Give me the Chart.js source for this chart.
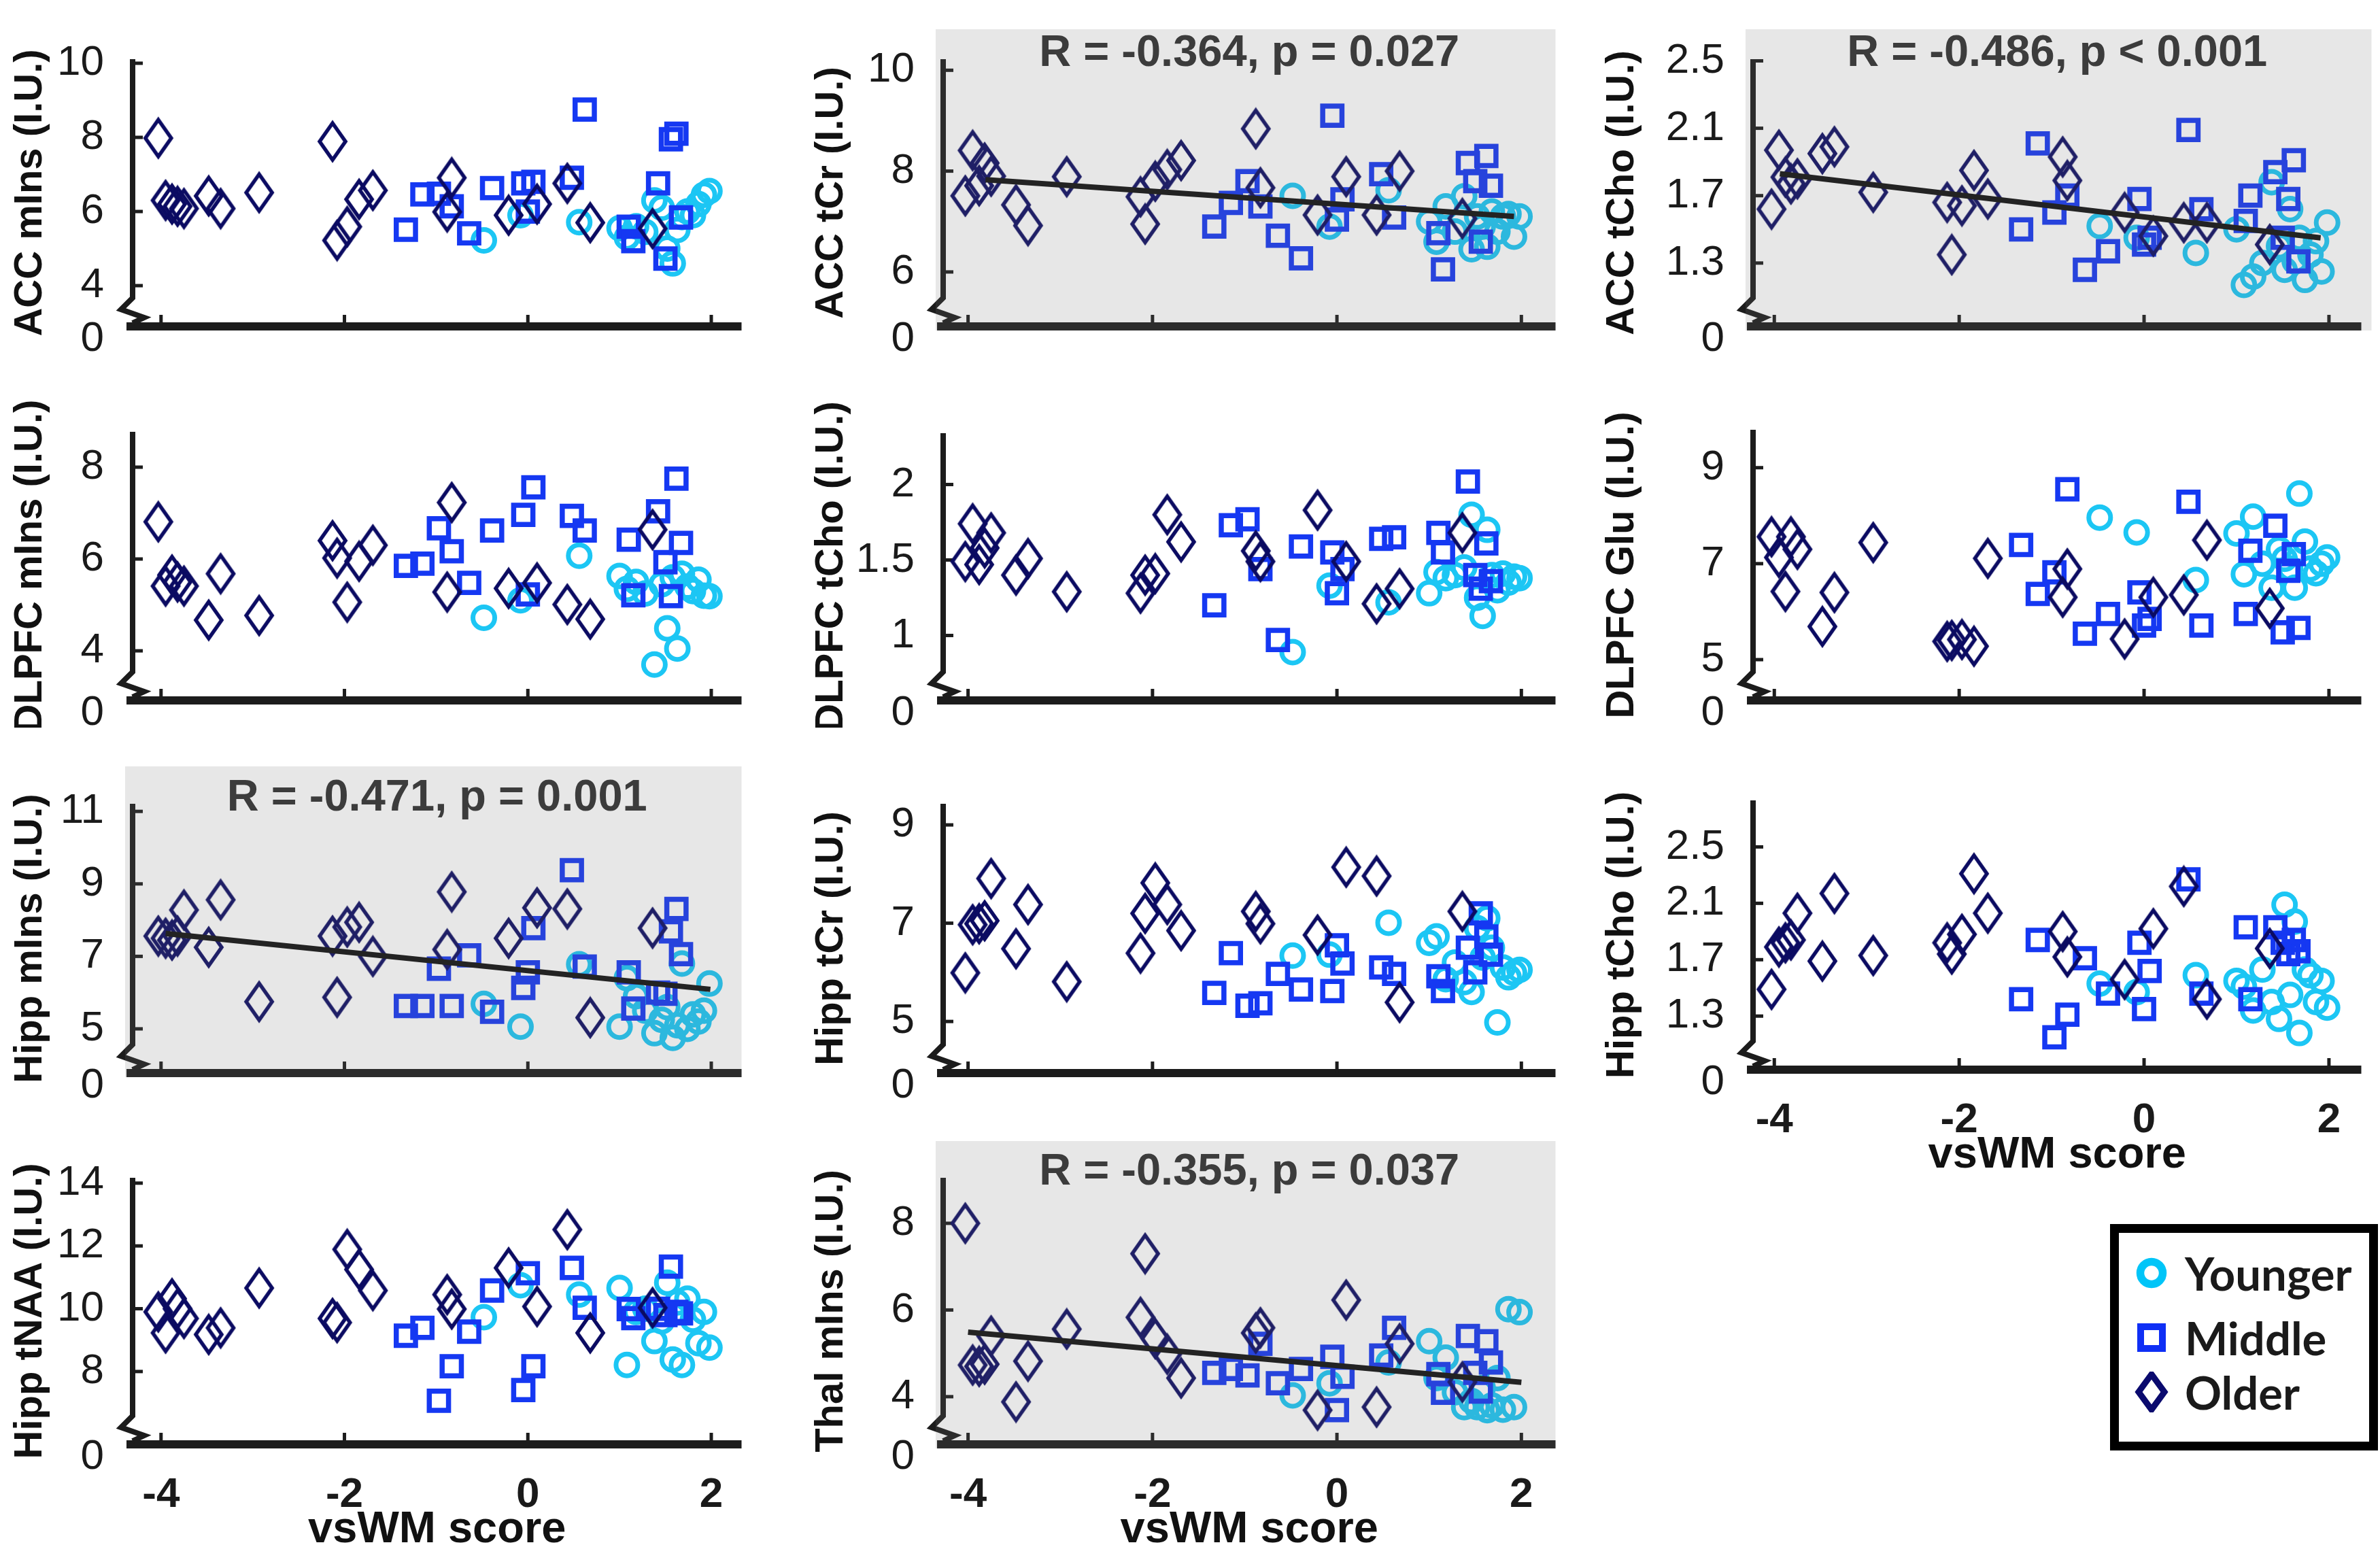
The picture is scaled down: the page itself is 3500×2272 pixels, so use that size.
<!DOCTYPE html>
<html>
<head>
<meta charset="utf-8">
<script src="https://cdn.jsdelivr.net/npm/chart.js@4.4.1/dist/chart.umd.min.js"></script>
<style>
html, body { margin: 0; padding: 0; background: #fff; overflow: hidden; width: 3500px; height: 2272px; }
canvas { position: absolute; }
#legend { position: absolute; left: 3103px; top: 1800px; width: 394px; height: 333px; box-sizing: border-box;
  border: 13px solid #000; background: #fff; font-family: Lato, "Open Sans", sans-serif; font-weight: bold;
  font-size: 67px; color: #1a1a1a; }
#legend .item { position: absolute; left: 0; height: 80px; width: 360px; }
#legend svg { position: absolute; left: 18px; top: 10px; }
#legend span { position: absolute; left: 97px; top: 0; line-height: 80px; white-space: nowrap; }
</style>
</head>
<body>
<div id="legend">
  <div class="item" style="top:19px"><svg width="60" height="60"><circle cx="30" cy="30" r="16.5" fill="none" stroke="#00c5f8" stroke-width="11.5"/></svg><span>Younger</span></div>
  <div class="item" style="top:114px"><svg width="60" height="60"><rect x="14" y="14" width="32" height="32" fill="none" stroke="#0f2ff5" stroke-width="10"/></svg><span>Middle</span></div>
  <div class="item" style="top:194px"><svg width="60" height="60" style="top:10px"><polygon points="30,4 49,30 30,56 11,30" fill="none" stroke="#0a0a6e" stroke-width="9"/></svg><span>Older</span></div>
</div>
<script>
// vsWM score of each subject, by age group
var xOlder = [-4.03, -3.95, -3.88, -3.82, -3.75, -3.48, -3.35, -2.93, -2.13, -2.08, -1.97, -1.84, -1.69, -0.88, -0.83, -0.21, 0.10, 0.43, 0.68, 1.36];
var xMiddle = [-1.33, -1.15, -0.97, -0.83, -0.64, -0.39, -0.05, 0.00, 0.06, 0.48, 0.62, 1.10, 1.15, 1.42, 1.50, 1.56, 1.62, 1.67];
var xYounger = [-0.48, -0.08, 0.56, 1.00, 1.08, 1.18, 1.28, 1.38, 1.46, 1.52, 1.58, 1.63, 1.68, 1.74, 1.80, 1.86, 1.92, 1.98];

var xTickVals = [-4, -2, 0, 2];

// ACC mIns
var accMinsOlder = [7.98, 6.30, 6.20, 6.14, 6.08, 6.42, 6.08, 6.51, 7.89, 5.22, 5.59, 6.33, 6.57, 5.99, 6.91, 5.90, 6.20, 6.76, 5.70, 5.54];
var accMinsMiddle = [5.51, 6.46, 6.48, 6.14, 5.41, 6.63, 6.76, 6.00, 6.80, 6.91, 8.75, 5.59, 5.20, 6.76, 4.73, 7.95, 8.10, 5.84];
var accMinsYounger = [5.22, 5.90, 5.71, 5.55, 5.30, 5.60, 5.45, 6.30, 6.10, 5.00, 4.60, 5.50, 5.85, 6.00, 5.90, 6.20, 6.45, 6.55];
var ticksAccMins = [4, 6, 8, 10];

// ACC tCr
var accTcrOlder = [7.51, 8.41, 7.71, 8.16, 7.90, 7.33, 6.92, 7.89, 7.49, 6.95, 7.80, 8.03, 8.21, 8.84, 7.67, 7.13, 7.89, 7.13, 8.00, 7.06];
var accTcrMiddle = [6.90, 7.37, 7.80, 7.30, 6.72, 6.27, 9.10, 7.04, 7.44, 7.94, 7.08, 6.77, 6.05, 8.16, 7.80, 6.60, 8.30, 7.71];
var accTcrYounger = [7.51, 6.90, 7.62, 7.00, 6.60, 7.30, 6.80, 7.50, 6.45, 7.10, 6.90, 6.50, 7.20, 6.80, 7.10, 7.15, 6.70, 7.10];
var ticksAccTcr = [6, 8, 10];
var fitAccTcrX = [-3.81, 1.92], fitAccTcrY = [7.83, 7.10];

// ACC tCho
var accTchoOlder = [1.62, 1.97, 1.81, 1.77, 1.80, 1.95, 1.99, 1.72, 1.66, 1.35, 1.64, 1.85, 1.68, 1.93, 1.79, 1.60, 1.46, 1.54, 1.54, 1.41];
var accTchoMiddle = [1.50, 2.01, 1.60, 1.70, 1.26, 1.37, 1.68, 1.41, 1.45, 2.09, 1.62, 1.55, 1.70, 1.84, 1.45, 1.68, 1.91, 1.31];
var accTchoYounger = [1.52, 1.45, 1.36, 1.50, 1.17, 1.22, 1.30, 1.78, 1.40, 1.26, 1.62, 1.31, 1.45, 1.20, 1.35, 1.43, 1.25, 1.54];
var ticksAccTcho = [1.3, 1.7, 2.1, 2.5];
var fitAccTchoX = [-3.94, 1.91], fitAccTchoY = [1.83, 1.45];

// DLPFC mIns
var dlpfcMinsOlder = [6.81, 5.41, 5.65, 5.50, 5.41, 4.67, 5.68, 4.77, 6.40, 6.02, 5.06, 5.95, 6.30, 5.28, 7.23, 5.36, 5.48, 5.01, 4.69, 6.64];
var dlpfcMinsMiddle = [5.85, 5.90, 6.67, 6.17, 5.48, 6.62, 6.96, 5.23, 7.56, 6.94, 6.62, 6.42, 5.21, 7.04, 5.93, 5.19, 7.75, 6.35];
var dlpfcMinsYounger = [4.72, 5.10, 6.07, 5.63, 5.35, 5.50, 5.25, 3.70, 5.45, 4.49, 5.60, 4.05, 5.68, 5.40, 5.30, 5.55, 5.20, 5.19];
var ticksDlpfcMins = [4, 6, 8];

// DLPFC tCho
var dlpfcTchoOlder = [1.49, 1.74, 1.47, 1.58, 1.68, 1.40, 1.51, 1.29, 1.28, 1.40, 1.41, 1.80, 1.62, 1.56, 1.49, 1.83, 1.49, 1.21, 1.31, 1.68];
var dlpfcTchoMiddle = [1.20, 1.73, 1.77, 1.44, 0.97, 1.59, 1.55, 1.28, 1.44, 1.64, 1.65, 1.68, 1.55, 2.02, 1.40, 1.31, 1.61, 1.36];
var dlpfcTchoYounger = [0.89, 1.33, 1.22, 1.28, 1.42, 1.38, 1.40, 1.45, 1.80, 1.25, 1.13, 1.70, 1.40, 1.30, 1.41, 1.35, 1.39, 1.38];
var ticksDlpfcTcho = [1, 1.5, 2];

// DLPFC Glu
var dlpfcGluOlder = [7.56, 7.13, 6.42, 7.56, 7.30, 5.69, 6.40, 7.44, 5.38, 5.40, 5.42, 5.28, 7.11, 6.30, 6.89, 5.43, 6.30, 6.35, 7.49, 6.07];
var dlpfcGluMiddle = [7.39, 6.37, 6.82, 8.55, 5.54, 5.95, 6.40, 5.71, 5.85, 8.29, 5.71, 5.95, 7.27, 7.79, 5.57, 6.85, 7.20, 5.66];
var dlpfcGluYounger = [7.96, 7.65, 6.66, 7.63, 6.78, 7.98, 7.00, 6.50, 7.30, 7.10, 6.90, 6.50, 8.46, 7.46, 6.90, 6.80, 7.00, 7.13];
var ticksDlpfcGlu = [5, 7, 9];

// Hipp mIns
var hippMinsOlder = [7.56, 7.50, 7.45, 7.56, 8.28, 7.25, 8.56, 5.75, 7.56, 5.87, 7.81, 7.94, 7.00, 7.19, 8.78, 7.50, 8.34, 8.31, 5.31, 7.78];
var hippMinsMiddle = [5.63, 5.63, 6.66, 5.63, 7.03, 5.47, 6.13, 6.56, 7.78, 9.38, 6.72, 6.56, 5.56, 6.00, 5.97, 7.69, 8.31, 7.06];
var hippMinsYounger = [5.69, 5.06, 6.78, 5.06, 6.40, 5.90, 5.50, 4.88, 5.25, 5.60, 4.75, 5.10, 6.80, 5.00, 5.40, 5.20, 5.50, 6.25];
var ticksHippMins = [5, 7, 9, 11];
var fitHippMinsX = [-3.95, 1.99], fitHippMinsY = [7.63, 6.09];

// Hipp tCr
var hippTcrOlder = [5.99, 6.97, 6.99, 7.05, 7.91, 6.48, 7.38, 5.81, 6.39, 7.20, 7.82, 7.38, 6.85, 7.24, 6.99, 6.76, 8.14, 7.96, 5.39, 7.24];
var hippTcrMiddle = [5.58, 6.39, 5.32, 5.37, 5.97, 5.65, 5.62, 6.55, 6.18, 6.10, 5.97, 5.92, 5.62, 6.50, 6.00, 7.20, 6.73, 6.36];
var hippTcrYounger = [6.34, 6.36, 7.01, 6.60, 6.73, 5.86, 6.20, 5.80, 5.60, 6.90, 6.30, 7.10, 6.50, 4.98, 6.10, 5.90, 5.99, 6.05];
var ticksHippTcr = [5, 7, 9];

// Hipp tCho
var hippTchoOlder = [1.49, 1.79, 1.82, 1.84, 2.03, 1.69, 2.17, 1.73, 1.82, 1.74, 1.88, 2.31, 2.03, 1.90, 1.72, 1.56, 1.92, 2.22, 1.42, 1.78];
var hippTchoMiddle = [1.42, 1.84, 1.15, 1.31, 1.71, 1.46, 1.82, 1.35, 1.62, 2.27, 1.46, 1.93, 1.42, 1.93, 1.82, 1.74, 1.84, 1.76];
var hippTchoYounger = [1.53, 1.47, 1.59, 1.55, 1.51, 1.34, 1.63, 1.40, 1.28, 2.09, 1.45, 1.97, 1.18, 1.63, 1.59, 1.40, 1.55, 1.36];
var ticksHippTcho = [1.3, 1.7, 2.1, 2.5];

// Hipp tNAA
var hippTnaaOlder = [9.90, 9.23, 10.32, 10.00, 9.69, 9.18, 9.39, 10.66, 9.69, 9.56, 11.89, 11.25, 10.58, 10.45, 9.99, 11.30, 10.07, 12.52, 9.23, 10.03];
var hippTnaaMiddle = [9.14, 9.39, 7.07, 8.17, 9.27, 10.58, 7.41, 11.13, 8.17, 11.30, 10.03, 9.99, 9.70, 10.00, 9.80, 11.34, 9.90, 9.85];
var hippTnaaYounger = [9.73, 10.75, 10.45, 10.66, 8.21, 9.90, 10.00, 8.97, 9.60, 10.83, 8.38, 10.20, 8.21, 10.32, 9.65, 8.90, 9.90, 8.76];
var ticksHippTnaa = [8, 10, 12, 14];

// Thal mIns
var thalMinsOlder = [8.00, 4.73, 4.70, 4.75, 5.40, 3.88, 4.82, 5.56, 5.83, 7.30, 5.34, 4.98, 4.43, 5.47, 5.59, 3.69, 6.23, 3.76, 5.22, 4.34];
var thalMinsMiddle = [4.55, 4.64, 4.49, 5.22, 4.31, 4.64, 4.92, 3.69, 4.46, 4.95, 5.59, 4.52, 4.09, 5.40, 4.55, 4.12, 5.28, 4.79];
var thalMinsYounger = [4.03, 4.31, 4.79, 5.28, 4.43, 4.90, 4.10, 3.76, 3.90, 3.76, 4.20, 3.69, 3.80, 4.43, 3.70, 6.02, 3.76, 5.95];
var ticksThalMins = [4, 6, 8];
var fitThalMinsX = [-4.0, 2.0], fitThalMinsY = [5.49, 4.33];

var colYoung = '#1cc6f4', colMiddle = '#1538f2', colOlder = '#0b0b62', axisColor = '#1c1c1c';
var sans = '"Liberation Sans", Arial, sans-serif';

// page columns: canvas left, y-axis x, right end of x-axis, x limits
var cols = [
  {left: 0, ax: 195, ar: 1103, xmin: -4.31, xmax: 2.33},
  {left: 1178, ax: 1387, ar: 2300, xmin: -4.27, xmax: 2.37},
  {left: 2341, ax: 2578, ar: 3485, xmin: -4.23, xmax: 2.35}
];

var panels = [
  {col: 0, at: 87, ab: 480, ymin: 2.9, ymax: 10.11, yt: ticksAccMins, label: 'ACC mIns (I.U.)', o: accMinsOlder, m: accMinsMiddle, y: accMinsYounger},
  {col: 1, at: 87, ab: 480, ymin: 4.92, ymax: 10.22, yt: ticksAccTcr, label: 'ACC tCr (I.U.)', o: accTcrOlder, m: accTcrMiddle, y: accTcrYounger,
   fx: fitAccTcrX, fy: fitAccTcrY, r: 'R = -0.364, p = 0.027', grayTop: 44, grayRight: 0},
  {col: 2, at: 87, ab: 480, ymin: 0.924, ymax: 2.51, yt: ticksAccTcho, label: 'ACC tCho (I.U.)', o: accTchoOlder, m: accTchoMiddle, y: accTchoYounger,
   fx: fitAccTchoX, fy: fitAccTchoY, r: 'R = -0.486, p < 0.001', grayTop: 44, grayRight: 15},
  {col: 0, at: 635, ab: 1030, ymin: 2.92, ymax: 8.77, yt: ticksDlpfcMins, label: 'DLPFC mIns (I.U.)', o: dlpfcMinsOlder, m: dlpfcMinsMiddle, y: dlpfcMinsYounger},
  {col: 1, at: 637, ab: 1030, ymin: 0.57, ymax: 2.34, yt: ticksDlpfcTcho, label: 'DLPFC tCho (I.U.)', o: dlpfcTchoOlder, m: dlpfcTchoMiddle, y: dlpfcTchoYounger},
  {col: 2, at: 632, ab: 1030, ymin: 4.15, ymax: 9.79, yt: ticksDlpfcGlu, label: 'DLPFC Glu (I.U.)', o: dlpfcGluOlder, m: dlpfcGluMiddle, y: dlpfcGluYounger},
  {col: 0, at: 1182, ab: 1578, ymin: 3.78, ymax: 11.21, yt: ticksHippMins, label: 'Hipp mIns (I.U.)', o: hippMinsOlder, m: hippMinsMiddle, y: hippMinsYounger,
   fx: fitHippMinsX, fy: fitHippMinsY, r: 'R = -0.471, p = 0.001', grayTop: 55, grayRight: 0},
  {col: 1, at: 1182, ab: 1578, ymin: 3.95, ymax: 9.43, yt: ticksHippTcr, label: 'Hipp tCr (I.U.)', o: hippTcrOlder, m: hippTcrMiddle, y: hippTcrYounger},
  {col: 2, at: 1177, ab: 1573, ymin: 0.92, ymax: 2.83, yt: ticksHippTcho, label: 'Hipp tCho (I.U.)', o: hippTchoOlder, m: hippTchoMiddle, y: hippTchoYounger, bottom: true},
  {col: 0, at: 1732, ab: 2124, ymin: 5.68, ymax: 14.17, yt: ticksHippTnaa, label: 'Hipp tNAA (I.U.)', o: hippTnaaOlder, m: hippTnaaMiddle, y: hippTnaaYounger, bottom: true},
  {col: 1, at: 1732, ab: 2124, ymin: 2.9, ymax: 9.05, yt: ticksThalMins, label: 'Thal mIns (I.U.)', o: thalMinsOlder, m: thalMinsMiddle, y: thalMinsYounger,
   fx: fitThalMinsX, fy: fitThalMinsY, r: 'R = -0.355, p = 0.037', grayTop: 54, grayRight: 0, bottom: true}
];

function pts(xs, ys) {
  var out = [];
  xs.forEach(function (x, i) { if (ys[i] != null) out.push({x: x, y: ys[i]}); });
  return out;
}

// tall diamond marker like matlab's 'd'
function diamond(color) {
  var c = document.createElement('canvas');
  c.width = 46; c.height = 64;
  var g = c.getContext('2d');
  g.strokeStyle = color; g.lineWidth = 5.5;
  g.beginPath(); g.moveTo(23, 5); g.lineTo(42, 32); g.lineTo(23, 59); g.lineTo(4, 32); g.closePath(); g.stroke();
  return c;
}
var diamondOlder = diamond(colOlder);

// axis lines with the break, inward ticks, grey highlight and R text
var deco = {
  id: 'deco',
  beforeDatasetsDraw: function (chart, args, o) {
    var ctx = chart.ctx, a = chart.chartArea, sx = chart.scales.x, sy = chart.scales.y;
    ctx.save();
    ctx.strokeStyle = axisColor;
    ctx.lineWidth = 12;
    ctx.beginPath(); ctx.moveTo(a.left - 9, a.bottom); ctx.lineTo(a.right, a.bottom); ctx.stroke();
    ctx.lineWidth = 8;
    ctx.beginPath();
    ctx.moveTo(a.left, a.top); ctx.lineTo(a.left, a.bottom - 42);
    ctx.lineTo(a.left - 17, a.bottom - 25); ctx.lineTo(a.left + 17, a.bottom - 13); ctx.lineTo(a.left, a.bottom - 5);
    ctx.stroke();
    ctx.lineWidth = 5;
    xTickVals.forEach(function (v) {
      var px = sx.getPixelForValue(v);
      ctx.beginPath(); ctx.moveTo(px, a.bottom); ctx.lineTo(px, a.bottom - 17); ctx.stroke();
    });
    sy.ticks.slice(1).forEach(function (t) {
      var py = sy.getPixelForValue(t.value);
      ctx.beginPath(); ctx.moveTo(a.left, py); ctx.lineTo(a.left + 15, py); ctx.stroke();
    });
    ctx.restore();
  },
  afterDatasetsDraw: function (chart, args, o) {
    if (!o.r) return;
    var ctx = chart.ctx, a = chart.chartArea;
    ctx.save();
    ctx.fillStyle = 'rgba(120,120,120,0.18)';
    var l = a.left - 11, t = a.top - o.grayTop;
    ctx.fillRect(l, t, a.right + o.grayRight - l, a.bottom + 6 - t);
    ctx.restore();
  },
  afterDraw: function (chart, args, o) {
    if (!o.r) return;
    var ctx = chart.ctx, a = chart.chartArea;
    ctx.save();
    ctx.font = 'bold 65px ' + sans;
    ctx.fillStyle = '#3c3c3c';
    ctx.textAlign = 'center'; ctx.textBaseline = 'middle';
    ctx.fillText(o.r, (a.left + a.right) / 2, a.top - 8);
    ctx.restore();
  }
};

function draw(p) {
  var c = cols[p.col];
  var padT = 70, padL = 10, padR = 15;
  var xh = p.bottom ? 165 : 40;
  var cv = document.createElement('canvas');
  cv.width = c.ar + padR - c.left;
  cv.height = padT + (p.ab - p.at) + xh;
  cv.style.left = c.left + 'px';
  cv.style.top = (p.at - padT) + 'px';
  document.body.appendChild(cv);

  var sets = [
    {data: pts(xOlder, p.o), pointStyle: diamondOlder, pointRadius: 20, order: 1},
    {data: pts(xMiddle, p.m), pointStyle: 'rect', pointRadius: 20, pointBorderWidth: 7.5,
     pointBorderColor: colMiddle, pointBackgroundColor: 'rgba(0,0,0,0)', order: 2},
    {data: pts(xYounger, p.y), pointStyle: 'circle', pointRadius: 16, pointBorderWidth: 7,
     pointBorderColor: colYoung, pointBackgroundColor: 'rgba(0,0,0,0)', order: 3}
  ];
  if (p.fx) {
    sets.push({data: pts(p.fx, p.fy), showLine: true, borderColor: '#111', borderWidth: 8, pointRadius: 0, order: 0});
  }

  new Chart(cv.getContext('2d'), {
    type: 'scatter',
    data: {datasets: sets},
    options: {
      responsive: false,
      animation: false,
      devicePixelRatio: 1,
      layout: {padding: {left: padL, right: padR, top: padT, bottom: 0}},
      plugins: {
        legend: {display: false},
        tooltip: {enabled: false},
        deco: {r: p.r, grayTop: p.grayTop, grayRight: p.grayRight}
      },
      scales: {
        x: {
          type: 'linear', min: c.xmin, max: c.xmax,
          afterBuildTicks: function (s) { s.ticks = xTickVals.map(function (v) { return {value: v}; }); },
          afterFit: function (s) { s.height = xh; s.paddingLeft = 0; s.paddingRight = 0; },
          grid: {display: false},
          border: {display: false},
          ticks: {display: !!p.bottom, autoSkip: false, maxRotation: 0, padding: 30, color: '#1a1a1a',
                  font: {family: sans, size: 62, weight: 'bold'},
                  callback: function (v) { return String(v); }},
          title: {display: !!p.bottom, text: 'vsWM score', color: '#111', padding: 0,
                  font: {family: sans, size: 65, weight: 'bold'}}
        },
        y: {
          type: 'linear', min: p.ymin, max: p.ymax,
          afterBuildTicks: function (s) { s.ticks = [p.ymin].concat(p.yt).map(function (v) { return {value: v}; }); },
          // fixed width, and no extra room for label overhang so the plot box stays where it is
          afterFit: function (s) { s.width = c.ax - c.left - padL; s.paddingTop = 0; s.paddingBottom = 0; },
          grid: {display: false},
          border: {display: false},
          ticks: {autoSkip: false, padding: 34, color: '#1a1a1a', font: {family: sans, size: 62, lineHeight: 0.6},
                  // the zero sits a little under the axis line
                  callback: function (v, i) { return i === 0 ? ['', '0'] : String(v); }},
          title: {display: true, text: p.label, color: '#111', padding: 0,
                  font: {family: sans, size: 58, weight: 'bold'}}
        }
      }
    },
    plugins: [deco]
  });
}

panels.forEach(draw);
</script>
</body>
</html>
